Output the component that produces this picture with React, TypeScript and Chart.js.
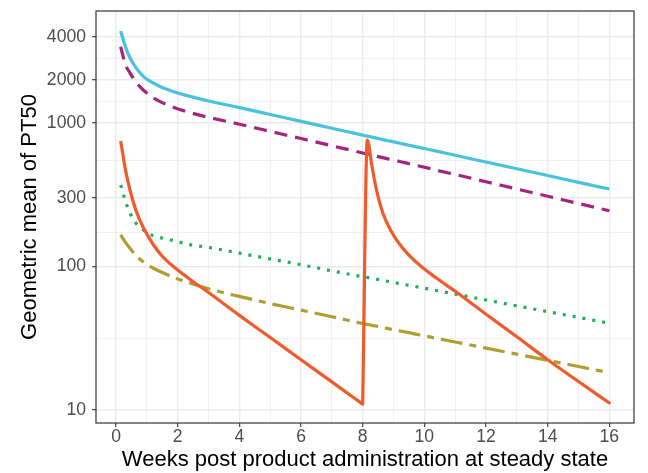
import React, { useEffect, useRef } from 'react';
import { Chart, registerables } from 'chart.js';

Chart.register(...registerables);

// Weeks post product administration
const weeks = [0.15, 0.3, 0.45, 0.65, 0.9, 1.2, 1.5, 1.9, 2.4, 3, 4, 5, 6, 7, 8, 8.15, 8.3, 8.45, 8.65, 8.9, 9.2, 9.5, 9.9, 10.4, 11, 12, 13, 14, 15, 16];

// Geometric mean of PT50 per series
const cyanSeries = [4375, 3428, 2851, 2427, 2099, 1905, 1770, 1648, 1535, 1426, 1282, 1148, 1028, 920, 824, 811, 798, 785, 767, 748, 724, 701, 671, 637, 596, 535, 480, 431, 386, 347];
const purpleSeries = [3404, 2570, 2239, 1928, 1687, 1503, 1387, 1279, 1183, 1096, 982, 875, 780, 695, 619, 608, 598, 587, 574, 558, 540, 521, 498, 469, 438, 390, 347, 309, 275, 245];
const orangeSeries = [750, 479, 343, 245, 184, 143, 118, 98.4, 81.3, 66, 45.7, 32, 22.4, 15.7, 11, 762, 501, 339, 237, 180, 143, 120, 100, 82.8, 67.3, 46.5, 32.4, 22.4, 15.8, 11.2];
const greenSeries = [370, 288, 237, 200, 179, 164, 158, 151, 142, 136, 124, 113, 103, 93.3, 85, 84, 82.8, 81.6, 80.1, 78.2, 76, 74, 71.3, 68, 64.3, 58.5, 53.2, 48.5, 44.2, 40.2];
const oliveSeries = [166, 148, 134, 119, 107, 97.7, 90.8, 83.6, 76.7, 70, 61.9, 55.2, 49.7, 44.7, 40.1, 39.5, 38.9, 38.4, 37.6, 36.6, 35.6, 34.6, 33.2, 31.6, 29.8, 27, 24.5, 22.2, 20.1, 18.2];

// index in weeks of the trough before the second dose (week 8)
const secondDoseIndex = 14;

// Axis ticks
const yMajorTicks = [10, 100, 300, 1000, 2000, 4000];
const yMinorTicks = [31.62, 173.2, 547.7, 1414, 2828];
const xMajorTicks = [0, 2, 4, 6, 8, 10, 12, 14, 16];
const xMinorTicks = [1, 3, 5, 7, 9, 11, 13, 15];

const FONT = '"Liberation Sans", Arial, Helvetica, sans-serif';

const panelBorder = {
  id: 'panelBorder',
  afterDraw(chart: any) {
    const { ctx, chartArea } = chart;
    const { left, top, right, bottom } = chartArea;
    ctx.save();
    ctx.strokeStyle = '#333333';
    ctx.lineWidth = 1.2;
    ctx.strokeRect(left, top, right - left, bottom - top);
    ctx.restore();
  },
};

function toXY(values: number[], from = 0, to = weeks.length) {
  const out: { x: number; y: number }[] = [];
  for (let i = from; i < to; i++) out.push({ x: weeks[i], y: values[i] });
  return out;
}

export default function App() {
  const canvasRef = useRef<HTMLCanvasElement | null>(null);

  useEffect(() => {
    if (!canvasRef.current) return;
    const common = {
      pointRadius: 0,
      borderWidth: 3.2,
      cubicInterpolationMode: 'monotone',
      fill: false,
      borderCapStyle: 'butt',
      borderJoinStyle: 'round',
    };
    const orange = '#F15A2B';
    const chart = new Chart(canvasRef.current, {
      type: 'line',
      data: {
        datasets: [
          { ...common, label: 'orange dose 1', data: toXY(orangeSeries, 0, secondDoseIndex + 1), borderColor: orange },
          { ...common, label: 'orange dose 2', data: toXY(orangeSeries, secondDoseIndex), borderColor: orange, borderCapStyle: 'round' },
          { ...common, label: 'cyan', data: toXY(cyanSeries), borderColor: '#48C2DE' },
          { ...common, label: 'purple', data: toXY(purpleSeries), borderColor: '#A5247F', borderDash: [13, 8] },
          { ...common, label: 'green', data: toXY(greenSeries), borderColor: '#1FAF57', borderDash: [3, 7] },
          { ...common, label: 'olive', data: toXY(oliveSeries), borderColor: '#AF9F31', borderDash: [22, 7, 7, 7] },
        ] as any,
      },
      options: {
        animation: false,
        responsive: false,
        devicePixelRatio: 1,
        layout: { padding: { left: 0, top: 11, right: 14, bottom: 0 } },
        plugins: { legend: { display: false }, tooltip: { enabled: false } },
        scales: {
          x: {
            type: 'linear',
            min: -0.65,
            max: 16.8,
            afterFit: (scale: any) => {
              scale.height = 50;
              scale.paddingLeft = 0;
              scale.paddingRight = 0;
            },
            afterBuildTicks: (scale: any) => {
              scale.ticks = [...xMajorTicks, ...xMinorTicks].sort((a, b) => a - b).map((v) => ({ value: v }));
            },
            ticks: {
              autoSkip: false,
              maxRotation: 0,
              padding: 1,
              color: '#4D4D4D',
              font: { family: FONT, size: 17.6, lineHeight: 1 },
              callback: (v: any) => (xMajorTicks.includes(Number(v)) ? String(v) : ''),
            },
            grid: {
              color: '#EBEBEB',
              lineWidth: (c: any) => (c.tick && xMajorTicks.includes(c.tick.value) ? 1.4 : 0.7),
              tickColor: (c: any) => (c.tick && xMajorTicks.includes(c.tick.value) ? '#333333' : 'rgba(0,0,0,0)'),
              tickWidth: 1.1,
              tickLength: 4,
            },
            border: { display: false },
            title: {
              display: true,
              text: 'Weeks post product administration at steady state',
              color: '#000000',
              font: { family: FONT, size: 22 },
              padding: { top: 0, bottom: 0 },
            },
          },
          y: {
            type: 'logarithmic',
            min: 8.12,
            max: 6040,
            afterFit: (scale: any) => {
              scale.width = 96;
              scale.paddingTop = 0;
              scale.paddingBottom = 0;
            },
            afterBuildTicks: (scale: any) => {
              scale.ticks = [...yMajorTicks, ...yMinorTicks].sort((a, b) => a - b).map((v) => ({ value: v }));
            },
            ticks: {
              autoSkip: false,
              padding: 6,
              color: '#4D4D4D',
              font: { family: FONT, size: 17.6, lineHeight: 1 },
              callback: (v: any) => (yMajorTicks.includes(Number(v)) ? String(v) : ''),
            },
            grid: {
              color: '#EBEBEB',
              lineWidth: (c: any) => (c.tick && yMajorTicks.includes(c.tick.value) ? 1.4 : 0.7),
              tickColor: (c: any) => (c.tick && yMajorTicks.includes(c.tick.value) ? '#333333' : 'rgba(0,0,0,0)'),
              tickWidth: 1.1,
              tickLength: 4,
            },
            border: { display: false },
            title: {
              display: true,
              text: 'Geometric mean of PT50',
              color: '#000000',
              font: { family: FONT, size: 22 },
              padding: { top: 17, bottom: 0 },
            },
          },
        },
      } as any,
      plugins: [panelBorder],
    });
    return () => chart.destroy();
  }, []);

  return (
    <div style={{ position: 'absolute', left: 0, top: 0, width: 648, height: 473, background: '#ffffff' }}>
      <canvas ref={canvasRef} width={648} height={473} style={{ display: 'block' }} />
    </div>
  );
}
